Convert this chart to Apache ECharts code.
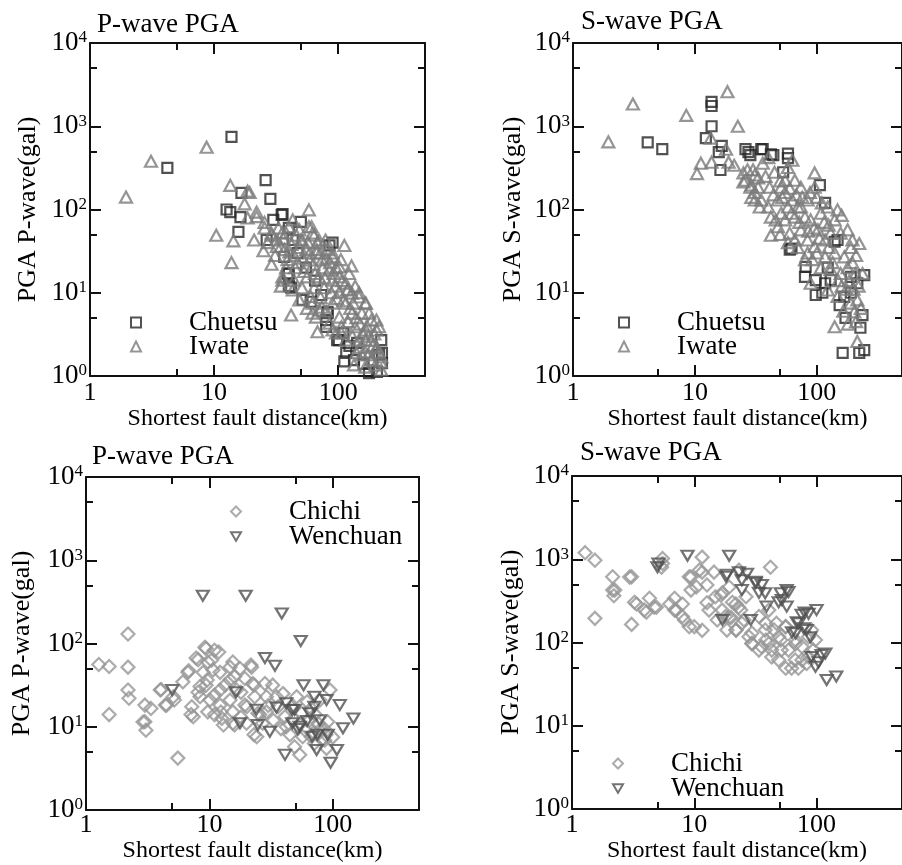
<!DOCTYPE html>
<html>
<head>
<meta charset="utf-8">
<script src="https://cdn.jsdelivr.net/npm/echarts@6/dist/echarts.min.js"></script>
<style>html,body{margin:0;padding:0;background:#fff;}#c{width:902px;height:865px;}</style>
</head>
<body>
<div id="c"></div>
<script>
// ---- tick values ----
const xMajor = [1, 10, 100];
const xMinor = [5, 50];
const yMajor = [1, 10, 100, 1000, 10000];
const yMinor = [5, 50, 500, 5000];

// ---- titles / names ----
const panelTitles = ['P-wave PGA', 'S-wave PGA', 'P-wave PGA', 'S-wave PGA'];
const yNames = ['PGA P-wave(gal)', 'PGA S-wave(gal)', 'PGA P-wave(gal)', 'PGA S-wave(gal)'];
const xName = 'Shortest fault distance(km)';

// ---- data: [distance km, PGA gal] ----
const chuetsuP = [[13.8,745],[4.2,316],[26,225],[28.4,134],[12.6,100],[13.5,93],[16.6,158],[16.3,81],[15.7,54],[35.6,88],[30,75],[50,71],[26.5,43],[36.7,27],[40,17],[41.7,11.5],[51.5,8.2],[73,9.4],[82,5.7],[80,4.7],[85,37],[101,2.7],[116,1.9],[112,1.5],[134,1.55],[177,1.08],[205,1.12],[225,1.43],[222,2.7],[225,1.9],[35,86],[40,60],[43,43],[39,17],[40,12],[60,7.8],[82,5.9],[80,3.9],[98,2.7],[123,2.3],[142,2.5],[213,1.8],[90,40],[47,30],[55,20],[65,14],[110,3.3],[160,1.4]];
const iwateP = [[1.95,141],[3.1,380],[8.7,560],[10.4,49],[13.5,195],[13.8,23],[14.3,42],[18.6,166],[17.6,117],[18.6,79],[21,43],[22,93],[25.5,60],[25,32],[58,99],[41.7,5.4],[68,3.4],[112,37],[128,21],
[19.3,160],[25.5,70],[22,82],[29,49],[32,36],[29,22],[35.5,53],[43,75],[46,49],[51,43],[61,62],[64,49],[79,43],[55,33],[67,33],[40.4,31],[38,20],[47,23],[58.5,24.7],[74,24.7],[90,30],[85,18.8],[102,20.5],[35.5,14.2],[44,14.2],[56,15.5],[70,15.5],[90,14.2],[115,13],[122,17],[51,11.5],[64,11.5],[77,11.5],[102,10.2],[129,9.9],[147,8.9],[167,7.5],[115,7.5],[90,7.5],[74,6.7],[62,5.7],[102,5.1],[129,5.7],[155,5.7],[185,4.7],[106,3.9],[137,3.9],[167,3.57],[203,3.57],[96,3.3],[115,2.7],[147,2.7],[185,2.7],[205,2.2],[165,1.95],[140,1.9],[185,1.56],[220,1.47],[165,1.28],[134,1.36],[222,1.18],
[29,52],[32,43],[34.5,36],[38,52],[40,62],[48.6,57],[50,43],[58,62],[62,52],[70,43],[67,30],[82,33],[90,27],[96,20],[102,15.5],[118,10.8],[137,12],[147,10],[165,7.5],[177,5.7],[203,4.7],[213,3.9],[35.5,15.5],[34.5,12],[43,10.8],[48.6,8.2],[62,7.5],[70,6.2],[66,5.1],[85,4.3],[90,3.57],[106,3.3],[165,2.7],[203,2.2],[155,1.8],[185,1.56],[222,1.7],
[27,40],[31,28],[33,60],[36,45],[37,33],[39,25],[42,38],[44,28],[45,20],[49,35],[52,26],[53,18],[57,40],[59,30],[63,22],[65,17],[68,40],[72,30],[75,20],[78,15],[80,26],[86,23],[88,10],[92,17],[95,12],[98,8.5],[105,25],[108,14],[110,8],[120,11],[125,6.5],[132,7.5],[140,5],[150,4.2],[158,3.2],[170,4],[175,3],[190,2.3],[195,3.2],[210,1.9],[60,9],[72,8.8],[80,6],[56,6.5],[120,4.5],[130,3],[150,2.2],[175,1.8],[200,1.35]];
const chuetsuS = [[13.7,1960],[13.7,1750],[13.7,1000],[4.1,640],[5.4,530],[12.3,720],[16.6,580],[15.7,490],[16.2,298],[26,530],[27.5,490],[28.5,450],[35,530],[42,460],[53,280],[58,470],[58,415],[106,196],[117,120],[140,41],[62,34],[81,20.5],[80,15.5],[98,14.2],[98,9.4],[111,10],[117,13],[130,14.2],[154,7.1],[168,8.9],[190,10],[215,13],[245,16.3],[172,5],[237,5.4],[228,3.8],[163,1.9],[223,1.9],[245,2.05],[190,15.5],[148,43],[123,20],[36,530],[44,450],[60,33]];
const iwateS = [[1.95,650],[3.1,1850],[8.5,1350],[18.5,2600],[22.5,1000],[13.5,720],[18,530],[11.2,360],[10.4,270],[13.7,370],[18.9,370],[21,340],[25,275],[25,215],[29,196],[31,260],[36,360],[40,420],[63,390],[58,320],[29,140],[41,185],[35,130],[40,107],[46,75],[48,130],[55,225],[55,160],[66,225],[74,185],[63,130],[70,107],[84,130],[96,275],[96,185],[80,81],[42,49],[48,62],[60,52],[66,43],[74,57],[89,75],[108,90],[123,107],[140,75],[148,99],[130,52],[157,52],[179,57],[196,43],[223,39],[96,36],[84,30],[117,27],[140,30],[168,27],[196,23],[80,25],[108,20],[130,19],[157,17],[179,20],[208,17],[237,17],[89,13],[123,10.8],[148,9],[190,7.5],[215,8.2],[203,5.9],[140,3.9],[215,2.6],[66,81],[42,81],[51,90],[58,107],[51,185],[33,185],[74,107],[102,57],[117,43],[84,43],[26,225],[28.5,185],[31,160],[31,130],[34,107],[27,300],[33,240],
[30,300],[38,250],[45,280],[50,220],[44,150],[52,140],[60,180],[68,150],[76,140],[88,160],[100,140],[110,120],[115,70],[105,45],[95,60],[85,55],[72,70],[62,90],[55,75],[50,50],[58,40],[70,35],[92,25],[100,30],[125,35],[135,23],[150,14],[160,12],[175,11],[185,14],[200,11],[220,12],[230,6.5],[210,4.5],[180,4.2],[165,6],[125,65],[160,85],[190,35],[210,28]];
const chichiP = [[1.27,56],[1.54,53],[2.19,130],[2.19,52],[2.19,27.6],[2.23,22],[1.54,14],[3.0,18.2],[3.36,16.6],[3.0,11.5],[3.06,9.1],[4.06,28],[4.5,18.2],[5.55,4.2],[5.1,22.9],[6.1,34.6],[6.8,47],[7.2,17.4],[7.4,13.2],[8.1,64],[9.4,87],[10.4,63],[11.9,79],[10.7,48],[9.6,36.4],[8.4,30.4],[8.4,22.9],[10.1,20.9],[9.7,15.1],[12.2,27.6],[12.2,18.2],[12.6,12.6],[14.7,52],[15.5,60],[17.7,50],[14.7,36.4],[16.6,27.6],[14.7,20.9],[15.5,15.1],[15.5,11],[20.1,17.4],[22,52],[19.4,38],[22.5,33],[23.3,22.9],[24.7,14.5],[24.2,7.6],[28.2,33],[29,22.9],[32.6,31.6],[35,22.9],[29,15.1],[36,17.4],[39.5,25],[41,13.2],[42,10],[46,17.4],[51,22.9],[56,14.5],[45,8],[49,5.75],[54,4.6],[67,7.6],[65,12],[76,11],[78.5,9.1],[86,6.9],[91,11.5],[95,27.6],[78.5,20.9],[67,16.6],[89,5.5],[71,6.3],[57,7.6],
[6.7,45],[7.8,67],[9.2,90],[11,83],[8.9,45],[9.7,60],[8.1,26],[7.1,14],[9.4,31.6],[11,24],[12.2,45],[13.4,31.6],[16,40],[12.4,15],[16,10.5],[18,26],[21.7,55],[19.4,18.2],[23,31.6],[25.6,14],[23,8],[2.9,11.4],[4.0,27.6],[4.4,18.2],[5.2,21],
[60,9],[70,8.5],[82,7],[85,9.5],[55,11],[48,12.5],[38,9.5],[33,12],[30,18],[27,11],[20,11],[18,13],[13,10.5],[11,14],[62,20],[72,14],[88,8],[100,7.5]];
const wenchuanP = [[8.85,374],[19.7,374],[38.6,230],[55,107],[28.2,67],[34,54],[58,31.6],[5,27.6],[71,22.9],[84,31.6],[114,18.2],[147,12.6],[121,9.6],[108,5.25],[96,3.7],[41,4.6],[74,5.25],[47,15.9],[30.9,8.7],[24.7,10.5],[17.7,11],[16.4,26],[54,10],[65,14.5],[47,11],[24,16],[78.5,12],[71,17.4],[42,19.1],[91,8],[68,7.6],[89,21],[35,17],[49,16],[62,11.7],[52,9.4],[75,8.0]];
const chichiS = [[1.28,1200],[1.54,975],[1.54,195],[2.15,615],[2.15,426],[2.2,365],[3.07,615],[3.07,165],[3.37,290],[4.3,340],[4.06,232],[4.9,265],[5.5,1020],[5.5,890],[6.3,290],[7.1,245],[8,290],[8,205],[9.1,155],[9.1,615],[10.4,465],[11.6,1060],[11.6,700],[12.7,490],[11.6,140],[13.2,245],[14.5,700],[14.9,355],[16.9,245],[18,205],[19.3,465],[21.9,290],[21.9,141],[24,245],[24.5,170],[28,117],[29.6,97],[23.2,740],[42,800],[26.5,355],[33.8,205],[38,141],[40.7,97],[43,67],[35.5,89],[49,117],[51.5,81],[62.5,49],[56,155],[67.5,97],[76,61.5],[86,117],[94,81],[83,56],[40.7,245],[47,170],
[2.96,610],[2.24,426],[3.25,305],[3.9,245],[4.7,265],[5.4,800],[6.9,340],[6.9,245],[8.3,186],[9.4,610],[9.4,426],[11,740],[12.7,300],[10,155],[16.5,370],[15.4,186],[20,200],[18.5,141],
[17,395],[20.5,305],[23,265],[19.3,200],[25.5,186],[22,141],[29.6,130],[38.5,170],[45,141],[56,155],[38.5,107],[51,107],[67,107],[33.8,81],[43,81],[59,81],[76,89],[86,67],[49,61.5],[67,61.5],[56,49],[71,49],[98,107],[91,141],[29.6,97]];
const wenchuanS = [[5,800],[5.1,890],[8.8,1100],[19.3,1100],[18.2,615],[23.2,700],[27,670],[24.5,426],[31.8,535],[35.7,490],[38,390],[39,270],[51,390],[57,426],[52,323],[57,270],[29,186],[17,186],[75.5,215],[86,222],[100,245],[71.4,170],[83,141],[67.5,129],[110,71],[98,51],[121,35.4],[145,39],[91,67],[18.5,650],[24.5,560],[31.8,520],[33.8,395],[59,405],[49,305],[80,230],[69,175],[78.5,148],[63,133],[89,116],[118,74],[104,58]];

// ---- build ----
const FONT = 'Liberation Serif';
const grids = [
  {left: 90, top: 43, width: 335, height: 333},
  {left: 573, top: 43, width: 332, height: 333},
  {left: 86, top: 477, width: 333, height: 333},
  {left: 572, top: 476, width: 333, height: 333}
];
const xNameGaps = [30, 30, 23, 28];
const xLabelMargins = [4, 4, 2, 3];
const yNameGaps = [49, 47, 51, 48];

function supLabel(v) {
  const e = Math.round(Math.log10(v));
  return '{b|10}{s|' + e + '}';
}

const xAxes = [], yAxes = [];
grids.forEach((g, i) => {
  const common = {gridIndex: i, type: 'log', logBase: 10, splitLine: {show: false}};
  const line = {show: true, onZero: false, lineStyle: {color: '#111', width: 2}};
  const noLine = {show: false, onZero: false};
  xAxes.push(Object.assign({}, common, {
    min: 1, max: 500, position: 'bottom',
    axisLine: line,
    axisTick: {show: true, inside: true, length: 11, customValues: xMajor, lineStyle: {color: '#111', width: 2}},
    axisLabel: {customValues: xMajor, formatter: v => String(v), fontFamily: FONT, fontSize: 26, color: '#000', margin: xLabelMargins[i]},
    name: xName, nameLocation: 'middle', nameGap: xNameGaps[i],
    nameTextStyle: {fontFamily: FONT, fontSize: 24, color: '#000'}
  }));
  xAxes.push(Object.assign({}, common, {
    min: 1, max: 500, position: 'bottom', axisLine: noLine,
    axisTick: {show: true, inside: true, length: 7, customValues: xMinor, lineStyle: {color: '#111', width: 2}},
    axisLabel: {show: false}
  }));
  xAxes.push(Object.assign({}, common, {
    min: 1, max: 500, position: 'top', axisLine: line,
    axisTick: {show: true, inside: true, length: 11, customValues: xMajor, lineStyle: {color: '#111', width: 2}},
    axisLabel: {show: false}
  }));
  xAxes.push(Object.assign({}, common, {
    min: 1, max: 500, position: 'top', axisLine: noLine,
    axisTick: {show: true, inside: true, length: 7, customValues: xMinor, lineStyle: {color: '#111', width: 2}},
    axisLabel: {show: false}
  }));
  yAxes.push(Object.assign({}, common, {
    min: 1, max: 10000, position: 'left', axisLine: line,
    axisTick: {show: true, inside: true, length: 11, customValues: yMajor, lineStyle: {color: '#111', width: 2}},
    axisLabel: {customValues: yMajor, formatter: supLabel, margin: 3,
      rich: {
        b: {fontFamily: FONT, fontSize: 27, color: '#000'},
        s: {fontFamily: FONT, fontSize: 17, color: '#000', verticalAlign: 'top', lineHeight: 10}
      }},
    name: yNames[i], nameLocation: 'middle', nameGap: yNameGaps[i],
    nameTextStyle: {fontFamily: FONT, fontSize: 26, color: '#000'}
  }));
  yAxes.push(Object.assign({}, common, {
    min: 1, max: 10000, position: 'left', axisLine: noLine,
    axisTick: {show: true, inside: true, length: 7, customValues: yMinor, lineStyle: {color: '#111', width: 2}},
    axisLabel: {show: false}
  }));
  yAxes.push(Object.assign({}, common, {
    min: 1, max: 10000, position: 'right', axisLine: line,
    axisTick: {show: true, inside: true, length: 11, customValues: yMajor, lineStyle: {color: '#111', width: 2}},
    axisLabel: {show: false}
  }));
  yAxes.push(Object.assign({}, common, {
    min: 1, max: 10000, position: 'right', axisLine: noLine,
    axisTick: {show: true, inside: true, length: 7, customValues: yMinor, lineStyle: {color: '#111', width: 2}},
    axisLabel: {show: false}
  }));
});

const DOWN_TRI = 'path://M0,0L20,0L10,17Z';
const styles = {
  Chuetsu: {symbol: 'rect', symbolSize: 10, itemStyle: {color: 'rgba(0,0,0,0)', borderColor: '#262626', borderWidth: 2.2}},
  Iwate: {symbol: 'triangle', symbolSize: [12, 11], itemStyle: {color: 'rgba(0,0,0,0)', borderColor: '#7a7a7a', borderWidth: 2.2}},
  Chichi: {symbol: 'diamond', symbolSize: 13, itemStyle: {color: 'rgba(0,0,0,0)', borderColor: '#969696', borderWidth: 2.2}},
  Wenchuan: {symbol: DOWN_TRI, symbolSize: [12, 10], itemStyle: {color: 'rgba(0,0,0,0)', borderColor: '#505050', borderWidth: 2.2}}
};
const panelSeries = [
  [['Chuetsu', chuetsuP], ['Iwate', iwateP]],
  [['Chuetsu', chuetsuS], ['Iwate', iwateS]],
  [['Chichi', chichiP], ['Wenchuan', wenchuanP]],
  [['Chichi', chichiS], ['Wenchuan', wenchuanS]]
];
const series = [];
panelSeries.forEach((ps, i) => {
  ps.forEach(([name, data]) => {
    series.push(Object.assign({
      type: 'scatter', name: name, data: data,
      xAxisIndex: 4 * i, yAxisIndex: 4 * i,
      silent: true
    }, JSON.parse(JSON.stringify(styles[name]))));
  });
});

const legendPos = [[130, 309], [618, 309], [230, 498], [612, 750]];
const legendGaps = [-3, -3, -2, -2];
const legends = legendPos.map((p, i) => ({
  left: p[0], top: p[1], orient: 'vertical', padding: 0,
  itemWidth: 10, itemHeight: 10, itemGap: legendGaps[i],
  selectedMode: false,
  data: panelSeries[i].map(s => s[0]),
  textStyle: {fontFamily: FONT, fontSize: 27, color: '#000', padding: [0, 0, 0, 43]}
}));

const titlePos = [[97, 11], [581, 8], [92, 443], [580, 439]];
const titles = titlePos.map((p, i) => ({
  text: panelTitles[i], left: p[0], top: p[1], padding: 0,
  textStyle: {fontFamily: FONT, fontSize: 27, fontWeight: 'normal', color: '#000'}
}));

const chart = echarts.init(document.getElementById('c'), null, {renderer: 'canvas'});
chart.setOption({
  animation: false,
  backgroundColor: '#fff',
  title: titles,
  legend: legends,
  grid: grids,
  xAxis: xAxes,
  yAxis: yAxes,
  series: series
});
</script>
</body>
</html>
